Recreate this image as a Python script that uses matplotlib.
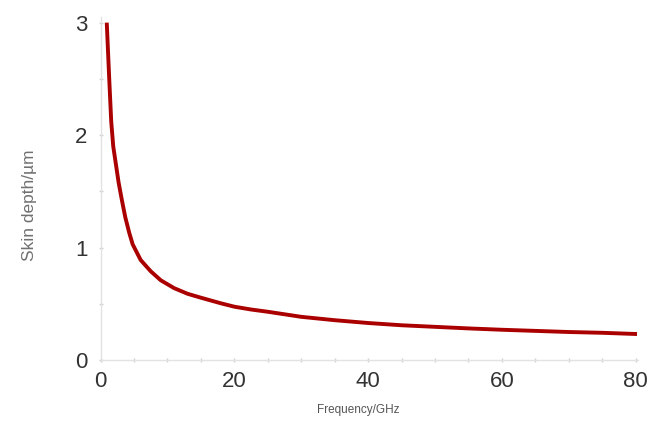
import matplotlib
matplotlib.use("Agg")
import matplotlib.pyplot as plt
from matplotlib.ticker import MultipleLocator

# Data
frequency_ghz = [0.93, 1.3, 1.6, 1.9, 2.3, 2.7, 3.2, 3.7, 4.3, 4.8, 6.0, 7.5, 9.0, 11.0, 13.0,
                 15.0, 18.0, 20.0, 22.5, 25.0, 30.0, 35.0, 40.0, 45.0, 50.0, 55.0,
                 60.0, 65.0, 70.0, 75.0, 80.2]
skin_depth_um = [3.0, 2.5, 2.12, 1.9, 1.74, 1.58, 1.42, 1.27, 1.13, 1.03, 0.89, 0.79, 0.71,
                 0.64, 0.59, 0.555, 0.505, 0.475, 0.45, 0.43, 0.385, 0.355, 0.33, 0.31,
                 0.296, 0.282, 0.27, 0.26, 0.25, 0.243, 0.232]

x_ticks = [0, 20, 40, 60, 80]
y_ticks = [0, 1, 2, 3]

fig = plt.figure(figsize=(6.64, 4.36), dpi=100)
ax = fig.add_axes([0.1514, 0.174, 0.809, 0.787])

ax.plot(frequency_ghz, skin_depth_um, color="#aa0000", lw=2.8, solid_capstyle="butt",
        solid_joinstyle="round")

ax.set_xlim(0, 80.3)
ax.set_ylim(0, 3.05)
ax.set_xticks(x_ticks)
ax.set_yticks(y_ticks)
ax.xaxis.set_minor_locator(MultipleLocator(5))
ax.yaxis.set_minor_locator(MultipleLocator(0.5))

for s in ["top", "right"]:
    ax.spines[s].set_visible(False)
for s in ["left", "bottom"]:
    ax.spines[s].set_color("#e2e2e2")
    ax.spines[s].set_linewidth(1.0)

font = ["Liberation Sans", "DejaVu Sans"]
ax.tick_params(which="both", direction="inout", length=3, width=1, color="#d0d0d0")
ax.tick_params(axis="x", which="major", pad=6, labelsize=16, labelcolor="#333333")
ax.tick_params(axis="y", which="major", pad=8, labelsize=16, labelcolor="#333333")
for lab in ax.get_xticklabels() + ax.get_yticklabels():
    lab.set_family(font)

ax.text(0.48, -0.145, "Frequency/GHz", transform=ax.transAxes, ha="center", va="center",
        fontsize=8.5, color="#555555", family=font)
ax.text(-0.133, 0.45, "Skin depth/µm", transform=ax.transAxes, ha="center", va="center",
        rotation=90, fontsize=12.5, color="#707070", family=font)

fig.savefig("out.png", dpi=100)
